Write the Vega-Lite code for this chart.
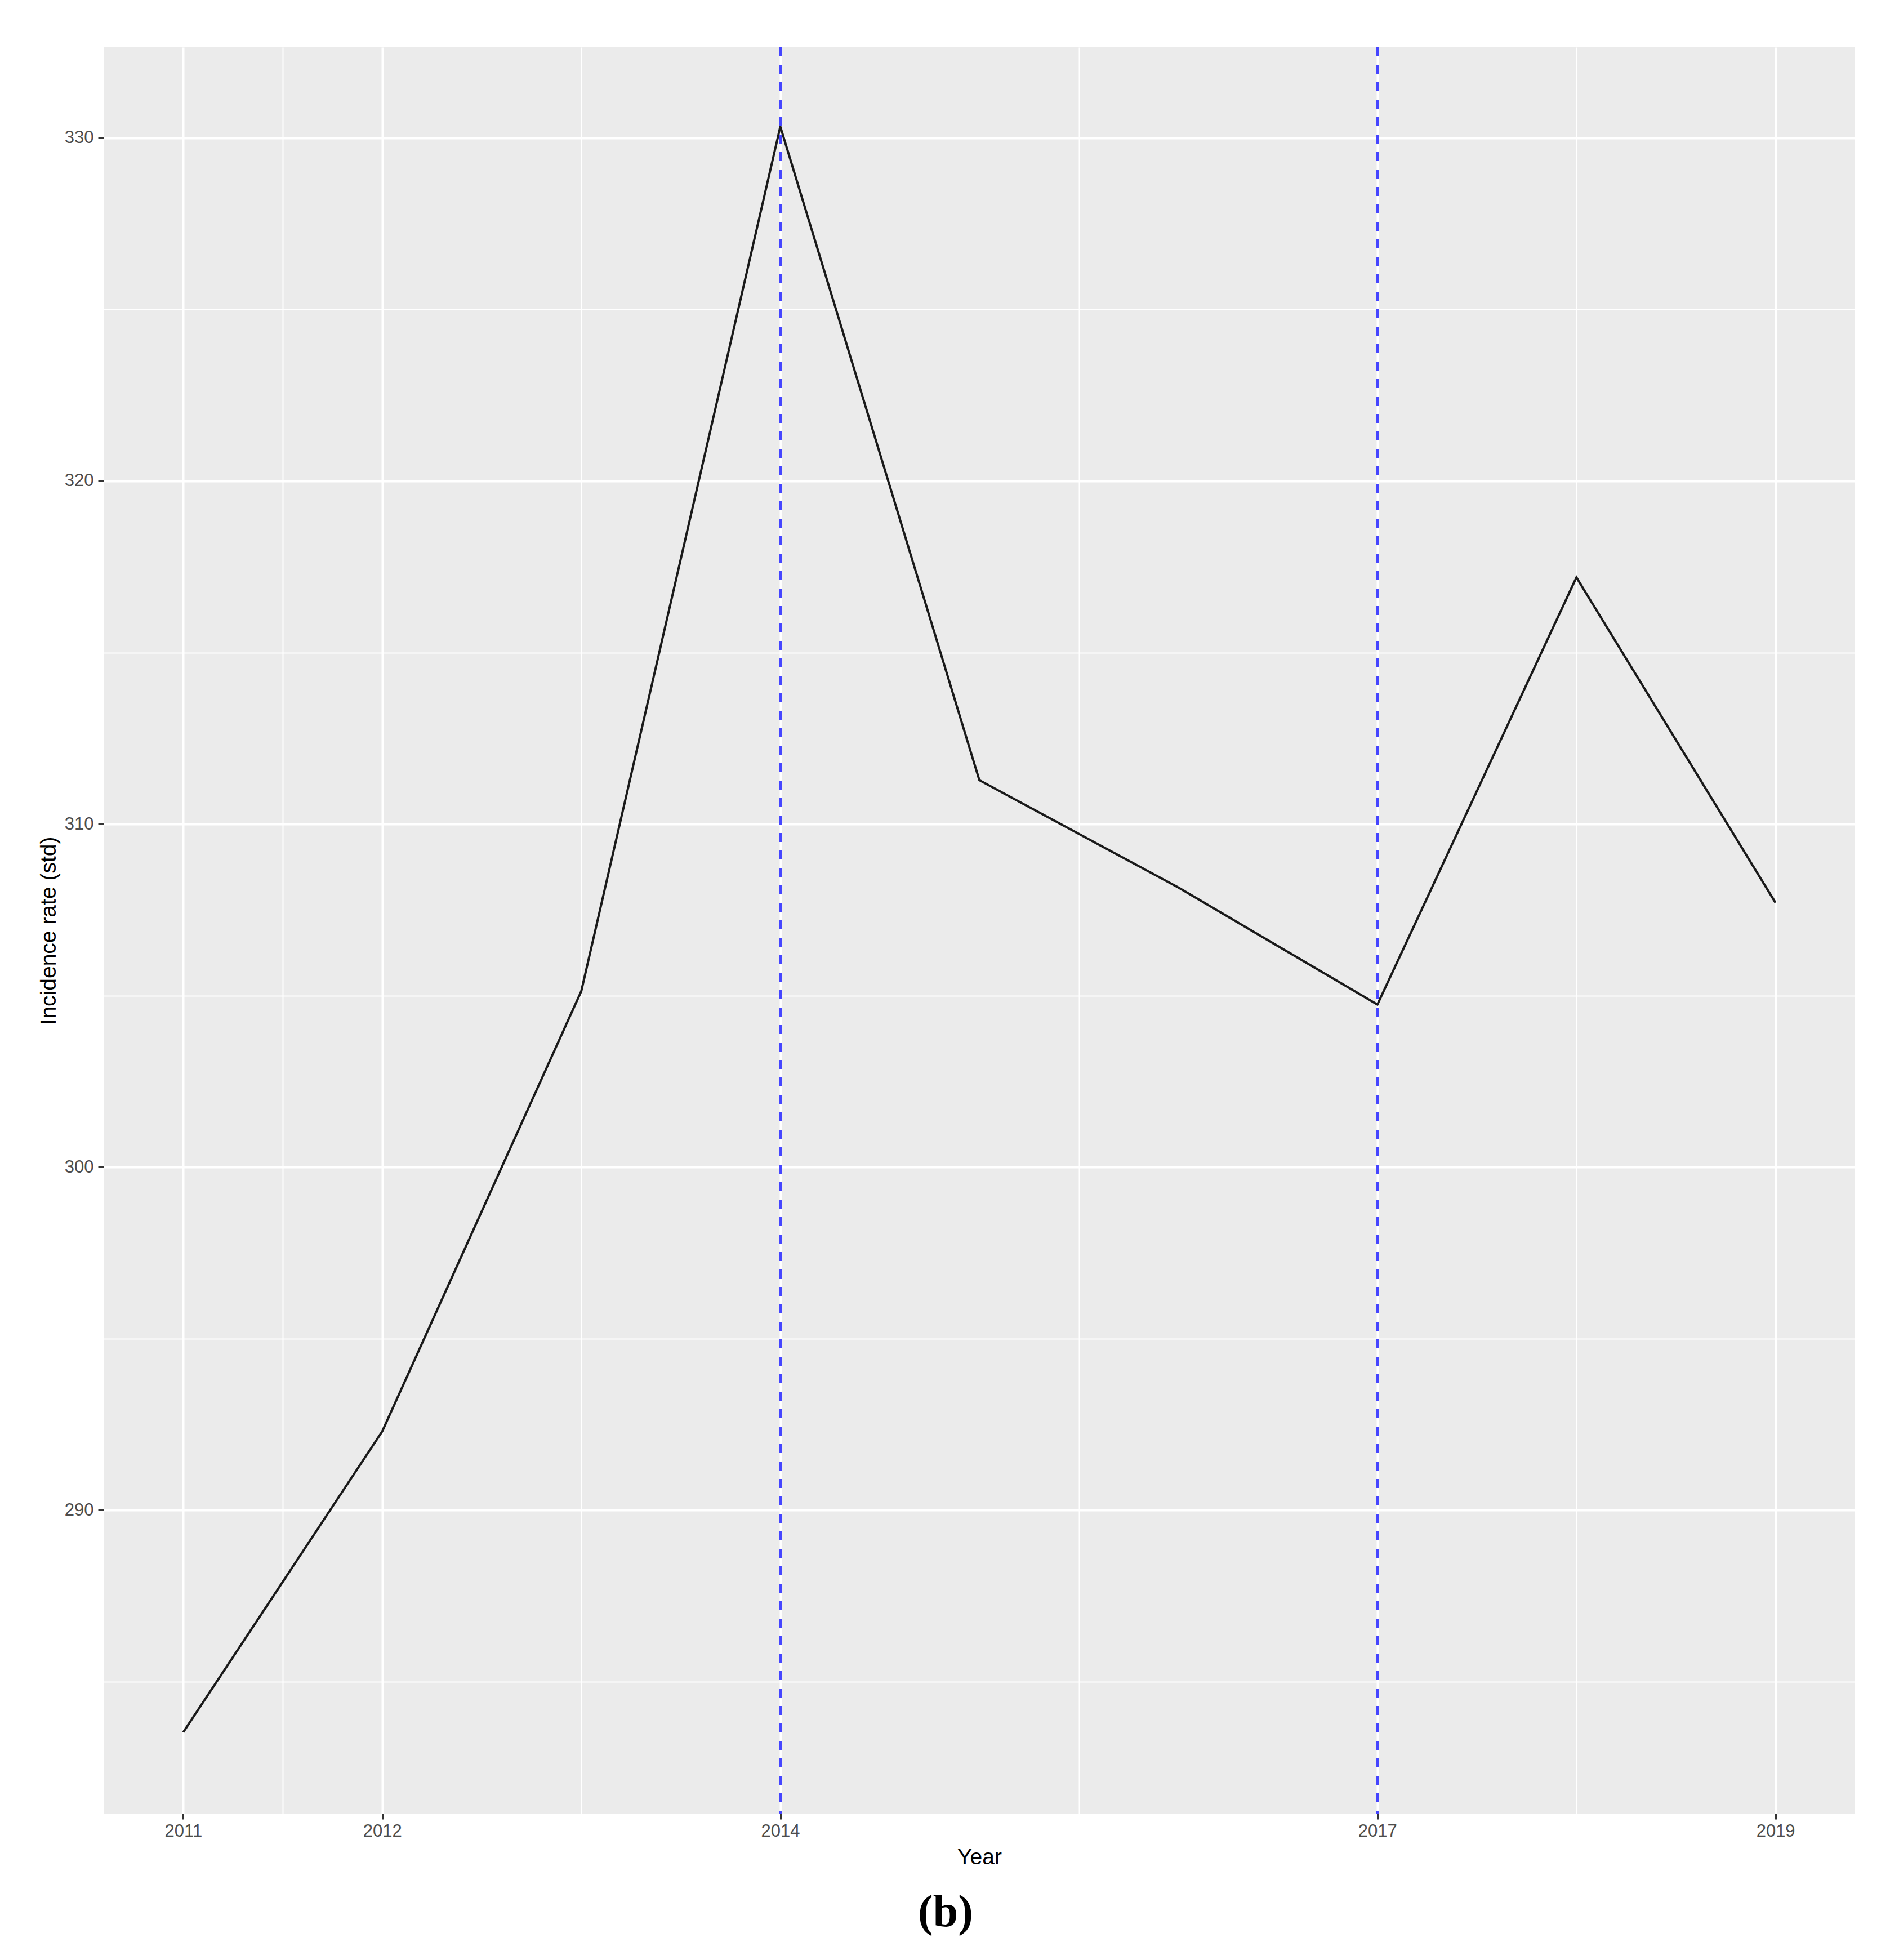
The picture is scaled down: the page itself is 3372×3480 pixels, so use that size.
{
  "$schema": "https://vega.github.io/schema/vega-lite/v6.json",
  "width": 3110,
  "height": 3136,
  "autosize": {"type": "none"},
  "padding": {"left": 184, "top": 84, "right": 78, "bottom": 260},
  "background": "white",
  "title": {
    "text": "(b)",
    "orient": "bottom",
    "anchor": "middle",
    "font": "Liberation Serif",
    "fontSize": 80,
    "fontWeight": "bold",
    "color": "black",
    "offset": 40,
    "dx": -60
  },
  "config": {
    "view": {"fill": "#EBEBEB", "stroke": null},
    "axis": {
      "domain": false,
      "grid": true,
      "gridColor": "white",
      "tickColor": "#333333",
      "tickWidth": 3,
      "tickSize": 10,
      "labelFont": "Liberation Sans",
      "labelFontSize": 31,
      "labelColor": "#4D4D4D",
      "labelOverlap": false,
      "labelFlush": false,
      "titleFont": "Liberation Sans",
      "titleFontSize": 39,
      "titleFontWeight": "normal",
      "titleColor": "black"
    }
  },
  "datasets": {
    "incidence": [
      {"Year": 2011, "Rate": 283.53},
      {"Year": 2012, "Rate": 292.3},
      {"Year": 2013, "Rate": 305.13},
      {"Year": 2014, "Rate": 330.33},
      {"Year": 2015, "Rate": 311.28},
      {"Year": 2016, "Rate": 308.15},
      {"Year": 2017, "Rate": 304.74},
      {"Year": 2018, "Rate": 317.19},
      {"Year": 2019, "Rate": 307.71}
    ],
    "cuts": [
      {"Year": 2014},
      {"Year": 2017}
    ]
  },
  "encoding": {
    "x": {
      "field": "Year",
      "type": "quantitative",
      "scale": {"domain": [2010.6, 2019.4], "nice": false, "zero": false},
      "axis": {
        "title": "Year",
        "values": [2011, 2011.5, 2012, 2013, 2014, 2015.5, 2017, 2018, 2019],
        "format": "d",
        "labelExpr": "indexof([2011, 2012, 2014, 2017, 2019], datum.value) >= 0 ? datum.label : ''",
        "gridWidth": {"condition": {"test": "indexof([2011, 2012, 2014, 2017, 2019], datum.value) < 0", "value": 2}, "value": 4},
        "tickOpacity": {"condition": {"test": "indexof([2011, 2012, 2014, 2017, 2019], datum.value) < 0", "value": 0}, "value": 1},
        "labelPadding": 6,
        "titlePadding": 12
      }
    }
  },
  "layer": [
    {
      "data": {"name": "incidence"},
      "mark": {"type": "line", "color": "#1A1A1A", "strokeWidth": 4},
      "encoding": {
        "y": {
          "field": "Rate",
          "type": "quantitative",
          "scale": {"domain": [281.16, 332.64], "nice": false, "zero": false},
          "axis": {
            "title": "Incidence rate (std)",
            "values": [285, 290, 295, 300, 305, 310, 315, 320, 325, 330],
            "labelExpr": "datum.value % 10 === 0 ? datum.label : ''",
            "gridWidth": {"condition": {"test": "datum.value % 10 !== 0", "value": 2}, "value": 4},
            "tickOpacity": {"condition": {"test": "datum.value % 10 !== 0", "value": 0}, "value": 1},
            "labelPadding": 8,
            "titlePadding": 8
          }
        }
      }
    },
    {
      "data": {"name": "cuts"},
      "mark": {"type": "rule", "color": "#4545FF", "strokeWidth": 5, "strokeDash": [16, 15]},
      "encoding": {}
    }
  ]
}
